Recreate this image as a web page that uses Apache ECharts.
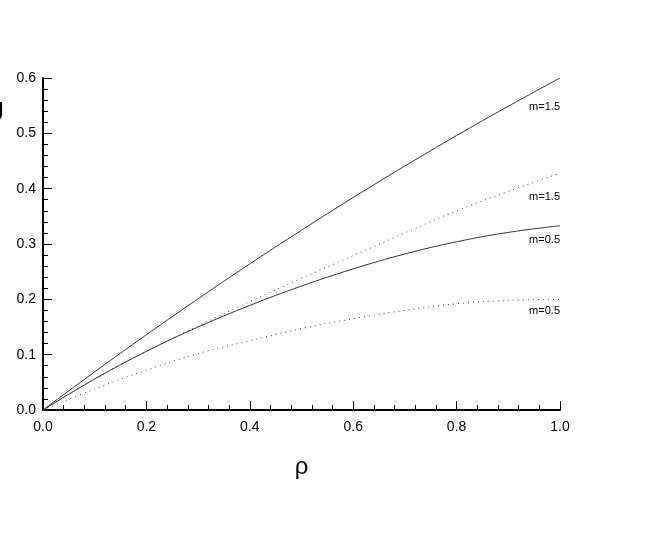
<!DOCTYPE html>
<html>
<head>
<meta charset="utf-8">
<script src="https://cdn.jsdelivr.net/npm/echarts@6/dist/echarts.min.js"></script>
<style>html,body{margin:0;padding:0;background:#fff;}#c{width:664px;height:548px;}</style>
</head>
<body>
<div id="c"></div>
<script>
const rho = [0, 0.1, 0.2, 0.3, 0.4, 0.5, 0.6, 0.7, 0.8, 0.9, 1.0];
const solid15 = [0, 0.069, 0.136, 0.201, 0.264, 0.325, 0.384, 0.441, 0.496, 0.549, 0.6];
const dotted15 = [0, 0.056, 0.106, 0.152, 0.196, 0.238, 0.279, 0.32, 0.36, 0.395, 0.428];
const solid05 = [0, 0.056, 0.106, 0.150, 0.189, 0.224, 0.255, 0.282, 0.304, 0.321, 0.333];
const dotted05 = [0, 0.038, 0.072, 0.102, 0.125, 0.147, 0.165, 0.18, 0.192, 0.198, 0.2];
const seriesLabels = ['m=1.5', 'm=1.5', 'm=0.5', 'm=0.5'];
const xTicks = [0, 0.2, 0.4, 0.6, 0.8, 1.0];
const yTicks = [0, 0.1, 0.2, 0.3, 0.4, 0.5, 0.6];

const labelOffsets = [29, 24, 14, 12];
function mk(vals, idx, dotted) {
  const last = vals.length - 1;
  return {
    type: 'line', data: vals.map((v, i) => [rho[i], v]), smooth: 0.4, showSymbol: false,
    silent: true, animation: false,
    lineStyle: dotted ? { color: '#444', width: 1, type: [1, 4] } : { color: '#333', width: 1 },
    markPoint: {
      silent: true, animation: false,
      symbol: 'circle', symbolSize: 1,
      itemStyle: { color: 'rgba(0,0,0,0)' },
      label: {
        show: true, formatter: seriesLabels[idx], position: 'inside',
        align: 'right', verticalAlign: 'middle', offset: [0, labelOffsets[idx]],
        fontFamily: 'Liberation Sans', fontSize: 11, color: '#000'
      },
      data: [{ coord: [rho[last], vals[last]] }]
    }
  };
}

const chart = echarts.init(document.getElementById('c'));
const axisFont = { fontFamily: 'Liberation Sans', fontSize: 14, color: '#000' };
chart.setOption({
  animation: false,
  grid: { left: 43, right: 104, top: 78, bottom: 138, containLabel: false },
  xAxis: {
    type: 'value', min: xTicks[0], max: xTicks[xTicks.length - 1], interval: 0.2,
    name: 'ρ', nameLocation: 'middle', nameGap: 45,
    nameTextStyle: { fontFamily: 'Liberation Sans', fontSize: 24, color: '#000' },
    axisLine: { lineStyle: { color: '#000', width: 2 } },
    axisTick: { inside: true, length: 9, lineStyle: { color: '#000', width: 1 } },
    minorTick: { show: true, splitNumber: 5, length: 5, lineStyle: { color: '#000', width: 1 } },
    splitLine: { show: false },
    axisLabel: Object.assign({ margin: 10, formatter: v => v.toFixed(1) }, axisFont)
  },
  yAxis: {
    type: 'value', min: yTicks[0], max: yTicks[yTicks.length - 1], interval: 0.1,
    axisLine: { show: true, lineStyle: { color: '#000', width: 2 } },
    axisTick: { show: true, inside: true, length: 9, lineStyle: { color: '#000', width: 1 } },
    minorTick: { show: true, splitNumber: 5, length: 5, lineStyle: { color: '#000', width: 1 } },
    splitLine: { show: false },
    axisLabel: Object.assign({ margin: 7, formatter: v => v.toFixed(1) }, axisFont)
  },
  graphic: [{
    type: 'text', left: -9, top: 100,
    style: { text: 'J', fontFamily: 'Liberation Sans', fontSize: 26, fill: '#000' }
  }],
  series: [mk(solid15, 0, false), mk(dotted15, 1, true), mk(solid05, 2, false), mk(dotted05, 3, true)]
});
</script>
</body>
</html>
